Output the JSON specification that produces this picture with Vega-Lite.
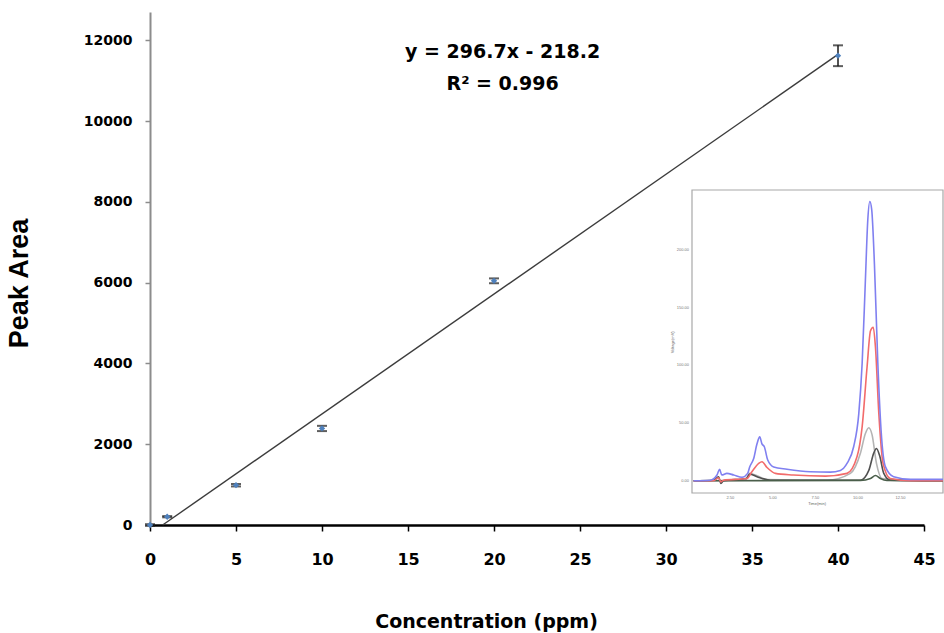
{
  "$schema": "https://vega.github.io/schema/vega-lite/v6.json",
  "width": 774,
  "height": 513,
  "autosize": {"type": "none"},
  "padding": {"left": 150, "top": 12, "right": 20, "bottom": 108},
  "background": "white",
  "config": {"view": {"stroke": null}, "axis": {"grid": false}},
  "datasets": {
    "cal": [
      {"conc": 0, "area": 0, "lo": -20, "hi": 20},
      {"conc": 1, "area": 205, "lo": 190, "hi": 220},
      {"conc": 5, "area": 985, "lo": 955, "hi": 1015},
      {"conc": 10, "area": 2390, "lo": 2325, "hi": 2455},
      {"conc": 20, "area": 6045, "lo": 5985, "hi": 6105},
      {"conc": 40, "area": 11620, "lo": 11360, "hi": 11875}
    ],
    "fit": [
      {"conc": 0.735, "area": 0},
      {"conc": 40, "area": 11649.8}
    ],
    "eq": [
      {"conc": 20.5, "area": 11700, "label": "y = 296.7x - 218.2"},
      {"conc": 20.5, "area": 10910, "label": "R² = 0.996"}
    ],
    "frame": [
      {"t0": 0.25, "t1": 15, "v0": -10.6, "v1": 252}
    ],
    "insetTitles": [
      {"t": 7.6, "v": -10.6, "label": "Time(min)", "kind": "x"},
      {"t": 0.25, "v": 120, "label": "Voltage(mV)", "kind": "y"}
    ],
    "chrom": [
      {"s": "a_gray", "t": 0.34, "v": 0}, {"s": "a_gray", "t": 3.38, "v": 0.5}, {"s": "a_gray", "t": 3.64, "v": 6.4}, {"s": "a_gray", "t": 3.97, "v": 5}, {"s": "a_gray", "t": 4.66, "v": 1}, {"s": "a_gray", "t": 8.19, "v": 0.5}, {"s": "a_gray", "t": 9.56, "v": 6.4}, {"s": "a_gray", "t": 10.15, "v": 24}, {"s": "a_gray", "t": 10.44, "v": 41}, {"s": "a_gray", "t": 10.64, "v": 46}, {"s": "a_gray", "t": 10.83, "v": 40}, {"s": "a_gray", "t": 11.09, "v": 15}, {"s": "a_gray", "t": 11.42, "v": 2}, {"s": "a_gray", "t": 15, "v": 0},
      {"s": "b_black", "t": 0.34, "v": 0}, {"s": "b_black", "t": 1.52, "v": 0.5}, {"s": "b_black", "t": 1.81, "v": 3.5}, {"s": "b_black", "t": 1.95, "v": -2.3}, {"s": "b_black", "t": 2.1, "v": 0}, {"s": "b_black", "t": 3.44, "v": 2}, {"s": "b_black", "t": 3.64, "v": 5.8}, {"s": "b_black", "t": 4.07, "v": 3.5}, {"s": "b_black", "t": 4.85, "v": 0.5}, {"s": "b_black", "t": 10.15, "v": 0.5}, {"s": "b_black", "t": 10.64, "v": 9}, {"s": "b_black", "t": 10.93, "v": 24}, {"s": "b_black", "t": 11.09, "v": 28}, {"s": "b_black", "t": 11.29, "v": 21}, {"s": "b_black", "t": 11.52, "v": 6.4}, {"s": "b_black", "t": 11.9, "v": 0.5}, {"s": "b_black", "t": 15, "v": 0},
      {"s": "c_dark", "t": 0.34, "v": 0}, {"s": "c_dark", "t": 10.15, "v": 0.3}, {"s": "c_dark", "t": 10.74, "v": 2}, {"s": "c_dark", "t": 11.03, "v": 4.6}, {"s": "c_dark", "t": 11.32, "v": 2}, {"s": "c_dark", "t": 11.7, "v": 0.3}, {"s": "c_dark", "t": 15, "v": 0},
      {"s": "d_red", "t": 0.34, "v": 0}, {"s": "d_red", "t": 1.52, "v": 0}, {"s": "d_red", "t": 1.81, "v": 2.6}, {"s": "d_red", "t": 1.95, "v": -1}, {"s": "d_red", "t": 2.1, "v": 0.5}, {"s": "d_red", "t": 3.48, "v": 2}, {"s": "d_red", "t": 3.77, "v": 7.8}, {"s": "d_red", "t": 4.17, "v": 15}, {"s": "d_red", "t": 4.36, "v": 16.5}, {"s": "d_red", "t": 4.66, "v": 11.5}, {"s": "d_red", "t": 5.15, "v": 6.4}, {"s": "d_red", "t": 6.2, "v": 5}, {"s": "d_red", "t": 8.1, "v": 4}, {"s": "d_red", "t": 9.36, "v": 6.4}, {"s": "d_red", "t": 9.95, "v": 21}, {"s": "d_red", "t": 10.25, "v": 47}, {"s": "d_red", "t": 10.54, "v": 99}, {"s": "d_red", "t": 10.74, "v": 130}, {"s": "d_red", "t": 10.9, "v": 133}, {"s": "d_red", "t": 11.03, "v": 116}, {"s": "d_red", "t": 11.23, "v": 58}, {"s": "d_red", "t": 11.48, "v": 15}, {"s": "d_red", "t": 11.9, "v": 2}, {"s": "d_red", "t": 13.1, "v": 0}, {"s": "d_red", "t": 15, "v": 0},
      {"s": "e_blue", "t": 0.34, "v": 0}, {"s": "e_blue", "t": 1.32, "v": 0.5}, {"s": "e_blue", "t": 1.72, "v": 5}, {"s": "e_blue", "t": 1.87, "v": 10}, {"s": "e_blue", "t": 2.0, "v": 5}, {"s": "e_blue", "t": 2.3, "v": 6.4}, {"s": "e_blue", "t": 2.7, "v": 5}, {"s": "e_blue", "t": 3.19, "v": 3}, {"s": "e_blue", "t": 3.52, "v": 6.4}, {"s": "e_blue", "t": 3.64, "v": 12}, {"s": "e_blue", "t": 3.87, "v": 19}, {"s": "e_blue", "t": 4.07, "v": 32}, {"s": "e_blue", "t": 4.23, "v": 38}, {"s": "e_blue", "t": 4.36, "v": 32}, {"s": "e_blue", "t": 4.5, "v": 29.5}, {"s": "e_blue", "t": 4.7, "v": 18}, {"s": "e_blue", "t": 5.05, "v": 12}, {"s": "e_blue", "t": 5.83, "v": 10}, {"s": "e_blue", "t": 7.2, "v": 7.8}, {"s": "e_blue", "t": 8.38, "v": 7.5}, {"s": "e_blue", "t": 8.97, "v": 9}, {"s": "e_blue", "t": 9.36, "v": 15}, {"s": "e_blue", "t": 9.75, "v": 29.5}, {"s": "e_blue", "t": 10.05, "v": 58}, {"s": "e_blue", "t": 10.25, "v": 102}, {"s": "e_blue", "t": 10.44, "v": 174}, {"s": "e_blue", "t": 10.58, "v": 226}, {"s": "e_blue", "t": 10.7, "v": 242}, {"s": "e_blue", "t": 10.81, "v": 235}, {"s": "e_blue", "t": 10.97, "v": 188}, {"s": "e_blue", "t": 11.17, "v": 102}, {"s": "e_blue", "t": 11.36, "v": 44}, {"s": "e_blue", "t": 11.62, "v": 12}, {"s": "e_blue", "t": 12.1, "v": 3.5}, {"s": "e_blue", "t": 13.1, "v": 1.2}, {"s": "e_blue", "t": 15, "v": 1.2}
    ],
    "insetY": [
      {"t": 0.25, "v": 0, "label": "0.00"}, {"t": 0.25, "v": 50, "label": "50.00"}, {"t": 0.25, "v": 100, "label": "100.00"}, {"t": 0.25, "v": 150, "label": "150.00"}, {"t": 0.25, "v": 200, "label": "200.00"}
    ],
    "insetX": [
      {"t": 2.5, "v": -10.6, "label": "2.50"}, {"t": 5, "v": -10.6, "label": "5.00"}, {"t": 7.5, "v": -10.6, "label": "7.50"}, {"t": 10, "v": -10.6, "label": "10.00"}, {"t": 12.5, "v": -10.6, "label": "12.50"}
    ]
  },
  "layer": [
    {
      "layer": [
        {
          "data": {"name": "fit"},
          "mark": {"type": "line", "color": "#3c3c3c", "strokeWidth": 1.4},
          "encoding": {
            "x": {
              "field": "conc", "type": "quantitative",
              "scale": {"domain": [0, 45], "nice": false, "zero": false},
              "axis": {
                "values": [0, 5, 10, 15, 20, 25, 30, 35, 40, 45],
                "domainColor": "black", "domainWidth": 2.5,
                "tickColor": "black", "tickSize": 6, "tickWidth": 1.5,
                "labelFont": "DejaVu Sans", "labelFontWeight": "bold", "labelFontSize": 16, "labelColor": "black",
                "labelPadding": 20, "labelFlush": false, "labelOverlap": false,
                "title": "Concentration (ppm)", "titleFont": "DejaVu Sans", "titleFontSize": 19, "titleFontWeight": "bold", "titleColor": "black",
                "titleX": 336, "titleY": 87
              }
            },
            "y": {
              "field": "area", "type": "quantitative",
              "scale": {"domain": [0, 12700], "nice": false, "zero": false},
              "axis": {
                "values": [0, 2000, 4000, 6000, 8000, 10000, 12000],
                "format": "d",
                "domainColor": "#8c8c8c", "domainWidth": 2,
                "tickColor": "#8c8c8c", "tickSize": 5, "tickWidth": 1.5,
                "labelFont": "DejaVu Sans", "labelFontWeight": "bold", "labelFontSize": 14, "labelColor": "black",
                "labelPadding": 13, "labelOverlap": false,
                "title": "Peak Area", "titleFont": "Liberation Sans", "titleFontSize": 27, "titleFontWeight": "bold", "titleColor": "black",
                "titleX": -117, "titleY": 271
              }
            }
          }
        },
        {
          "data": {"name": "cal"},
          "mark": {"type": "rule", "color": "#1a1a1a", "strokeWidth": 1.5},
          "encoding": {
            "x": {"field": "conc", "type": "quantitative"},
            "y": {"field": "lo", "type": "quantitative"},
            "y2": {"field": "hi"}
          }
        },
        {
          "data": {"name": "cal"},
          "mark": {"type": "tick", "orient": "horizontal", "size": 10, "thickness": 2, "color": "#1a1a1a"},
          "encoding": {
            "x": {"field": "conc", "type": "quantitative"},
            "y": {"field": "lo", "type": "quantitative"}
          }
        },
        {
          "data": {"name": "cal"},
          "mark": {"type": "tick", "orient": "horizontal", "size": 10, "thickness": 2, "color": "#1a1a1a"},
          "encoding": {
            "x": {"field": "conc", "type": "quantitative"},
            "y": {"field": "hi", "type": "quantitative"}
          }
        },
        {
          "data": {"name": "cal"},
          "mark": {"type": "point", "shape": "diamond", "filled": true, "size": 40, "color": "#4f81bd", "opacity": 1},
          "encoding": {
            "x": {"field": "conc", "type": "quantitative"},
            "y": {"field": "area", "type": "quantitative"}
          }
        },
        {
          "data": {"name": "eq"},
          "mark": {"type": "text", "font": "DejaVu Sans", "fontWeight": "bold", "fontSize": 19, "color": "black", "align": "center", "baseline": "middle"},
          "encoding": {
            "x": {"field": "conc", "type": "quantitative"},
            "y": {"field": "area", "type": "quantitative"},
            "text": {"field": "label"}
          }
        }
      ]
    },
    {
      "layer": [
        {
          "data": {"name": "frame"},
          "mark": {"type": "rect", "fill": "white", "stroke": "#a8a8a8", "strokeWidth": 1.2},
          "encoding": {
            "x": {"field": "t0", "type": "quantitative", "axis": null},
            "x2": {"field": "t1"},
            "y": {"field": "v0", "type": "quantitative", "axis": null},
            "y2": {"field": "v1"}
          }
        },
        {
          "data": {"name": "chrom"},
          "mark": {"type": "line", "strokeWidth": 1.6, "interpolate": "monotone"},
          "encoding": {
            "x": {"field": "t", "type": "quantitative", "axis": null,
                  "scale": {"domain": [0.25, 15], "range": [542, 793], "nice": false, "zero": false}},
            "y": {"field": "v", "type": "quantitative", "axis": null,
                  "scale": {"domain": [-10.6, 252], "range": [481, 178], "nice": false, "zero": false}},
            "color": {"field": "s", "type": "nominal", "legend": null,
                      "scale": {"domain": ["a_gray", "b_black", "c_dark", "d_red", "e_blue"],
                                "range": ["#b4b4b4", "#505050", "#4a5e4a", "#f26b6b", "#8080f0"]}}
          }
        },
        {
          "data": {"name": "insetY"},
          "mark": {"type": "text", "fontSize": 4, "color": "#777777", "align": "right", "baseline": "middle", "dx": -3},
          "encoding": {
            "x": {"field": "t", "type": "quantitative", "axis": null},
            "y": {"field": "v", "type": "quantitative", "axis": null},
            "text": {"field": "label"}
          }
        },
        {
          "data": {"name": "insetX"},
          "mark": {"type": "text", "fontSize": 4, "color": "#777777", "align": "center", "baseline": "top", "dy": 3},
          "encoding": {
            "x": {"field": "t", "type": "quantitative", "axis": null},
            "y": {"field": "v", "type": "quantitative", "axis": null},
            "text": {"field": "label"}
          }
        },
        {
          "data": {"name": "insetTitles"},
          "transform": [{"filter": "datum.kind === 'x'"}],
          "mark": {"type": "text", "fontSize": 4, "color": "#666666", "align": "center", "baseline": "top", "dy": 9},
          "encoding": {
            "x": {"field": "t", "type": "quantitative", "axis": null},
            "y": {"field": "v", "type": "quantitative", "axis": null},
            "text": {"field": "label"}
          }
        },
        {
          "data": {"name": "insetTitles"},
          "transform": [{"filter": "datum.kind === 'y'"}],
          "mark": {"type": "text", "fontSize": 4, "color": "#666666", "align": "center", "baseline": "middle", "angle": 270, "dy": -19},
          "encoding": {
            "x": {"field": "t", "type": "quantitative", "axis": null},
            "y": {"field": "v", "type": "quantitative", "axis": null},
            "text": {"field": "label"}
          }
        }
      ]
    }
  ],
  "resolve": {
    "scale": {"x": "independent", "y": "independent", "color": "independent"},
    "axis": {"x": "independent", "y": "independent"}
  }
}
